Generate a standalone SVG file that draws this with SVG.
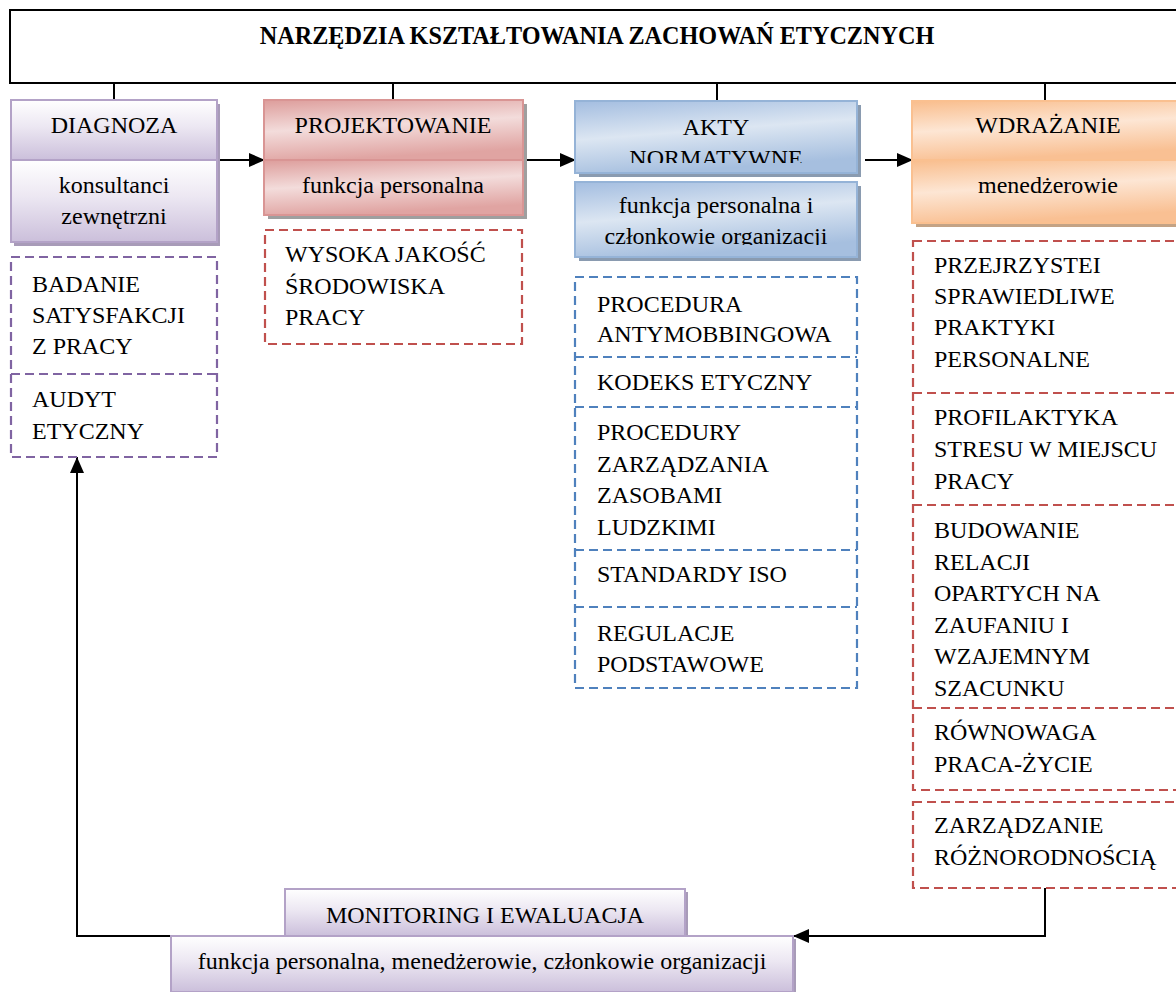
<svg xmlns="http://www.w3.org/2000/svg" width="1176" height="992" viewBox="0 0 1176 992">
<defs>
<linearGradient id="gPur" x1="0" y1="0" x2="0" y2="1">
<stop offset="0" stop-color="#ffffff"/><stop offset="0.45" stop-color="#ece7f2"/><stop offset="1" stop-color="#cbbfdb"/>
</linearGradient>
<linearGradient id="gRed" x1="0" y1="0" x2="0.25" y2="1">
<stop offset="0" stop-color="#dd9d9b"/><stop offset="0.5" stop-color="#f3dcdb"/><stop offset="1" stop-color="#e0a4a2"/>
</linearGradient>
<linearGradient id="gBlue" x1="0" y1="0" x2="0.3" y2="1">
<stop offset="0" stop-color="#a3bde0"/><stop offset="0.5" stop-color="#dce6f2"/><stop offset="1" stop-color="#a6bfdf"/>
</linearGradient>
<linearGradient id="gOra" x1="0" y1="0" x2="0.25" y2="1">
<stop offset="0" stop-color="#f9bd8c"/><stop offset="0.5" stop-color="#fde6d4"/><stop offset="1" stop-color="#f9c093"/>
</linearGradient>
<marker id="ah" markerUnits="userSpaceOnUse" markerWidth="16" markerHeight="14" refX="16" refY="7" orient="auto">
<path d="M0,0 L16,7 L0,14 z" fill="#000"/>
</marker>
<clipPath id="c1"><rect x="575" y="101" width="282" height="62"/></clipPath>
<clipPath id="c2"><rect x="575" y="182" width="282" height="63"/></clipPath>
<style>
text{font-family:"Liberation Serif","Times New Roman",serif;font-size:24px;fill:#000}
.t{font-weight:bold;font-size:24.2px}
.c{text-anchor:middle}
.pur{fill:url(#gPur);stroke:#b3a2c7;stroke-width:2}
.red{fill:url(#gRed);stroke:#d99594;stroke-width:2}
.blu{fill:url(#gBlue);stroke:#95b3d7;stroke-width:2}
.ora{fill:url(#gOra);stroke:#fac090;stroke-width:2}
.sh{fill:#9f9f9f}
.shp{fill:#a89bb8}
.shb{fill:#8a9bb0}
.sho{fill:#c4a385}
.dp{fill:none;stroke:#8064a2;stroke-width:2.2;stroke-dasharray:9 5}
.dr{fill:none;stroke:#c0504d;stroke-width:2.2;stroke-dasharray:9 5}
.db{fill:none;stroke:#4f81bd;stroke-width:2.2;stroke-dasharray:9 5}
.ln{fill:none;stroke:#000;stroke-width:2}
</style>
</defs>
<rect width="1176" height="992" fill="#fff"/>

<g id="header">
<rect x="10" y="10" width="1180" height="73" fill="#fff" stroke="#000" stroke-width="2"/>
<text class="t c" x="597" y="44">NARZĘDZIA KSZTAŁTOWANIA ZACHOWAŃ ETYCZNYCH</text>
</g>

<g id="connectors">
<line class="ln" x1="114" y1="83" x2="114" y2="100"/>
<line class="ln" x1="393" y1="83" x2="393" y2="100"/>
<line class="ln" x1="717" y1="83" x2="717" y2="101"/>
<line class="ln" x1="1045" y1="83" x2="1045" y2="101"/>
<line class="ln" x1="217" y1="160" x2="265" y2="160" marker-end="url(#ah)"/>
<line class="ln" x1="527" y1="160" x2="576" y2="160" marker-end="url(#ah)"/>
<line class="ln" x1="865" y1="160" x2="913" y2="160" marker-end="url(#ah)"/>
<polyline class="ln" points="1045,888 1045,936 793,936" marker-end="url(#ah)"/>
<polyline class="ln" points="171,936 77,936 77,457" marker-end="url(#ah)"/>
</g>

<g id="diagnoza">
<rect class="shp" x="14" y="104" width="206" height="142"/>
<rect class="pur" x="11" y="100" width="206" height="60"/>
<rect class="pur" x="11" y="160" width="206" height="82"/>
<text class="c" x="114" y="133">DIAGNOZA</text>
<text class="c" x="114" y="193">konsultanci</text>
<text class="c" x="114" y="224">zewnętrzni</text>
</g>

<g id="diagnoza-items">
<rect class="dp" x="11" y="257" width="206" height="200"/>
<line class="dp" x1="11" y1="374" x2="217" y2="374"/>
<text x="32" y="292">BADANIE</text>
<text x="32" y="323">SATYSFAKCJI</text>
<text x="32" y="354">Z PRACY</text>
<text x="32" y="407">AUDYT</text>
<text x="32" y="439">ETYCZNY</text>
</g>

<g id="projektowanie">
<rect class="sh" x="268" y="104" width="259" height="115"/>
<rect class="red" x="264" y="100" width="259" height="60"/>
<rect class="red" x="264" y="160" width="259" height="55"/>
<text class="c" x="393" y="133">PROJEKTOWANIE</text>
<text class="c" x="393" y="193">funkcja personalna</text>
</g>

<g id="projektowanie-items">
<rect class="dr" x="265" y="230" width="257" height="114"/>
<text x="285" y="262">WYSOKA JAKOŚĆ</text>
<text x="285" y="294">ŚRODOWISKA</text>
<text x="285" y="325">PRACY</text>
</g>

<g id="akty">
<rect class="shb" x="579" y="105" width="282" height="72"/>
<rect class="blu" x="575" y="101" width="282" height="72"/>
<text class="c" x="716" y="135">AKTY</text>
<text class="c" x="716" y="166" clip-path="url(#c1)">NORMATYWNE</text>
<rect class="shb" x="579" y="186" width="282" height="75"/>
<rect class="blu" x="575" y="182" width="282" height="75"/>
<text class="c" x="716" y="213">funkcja personalna i</text>
<text class="c" x="716" y="244" clip-path="url(#c2)">członkowie organizacji</text>
</g>

<g id="akty-items">
<rect class="db" x="575" y="277" width="282" height="411"/>
<line class="db" x1="575" y1="357" x2="857" y2="357"/>
<line class="db" x1="575" y1="407" x2="857" y2="407"/>
<line class="db" x1="575" y1="550" x2="857" y2="550"/>
<line class="db" x1="575" y1="607" x2="857" y2="607"/>
<text x="597" y="312">PROCEDURA</text>
<text x="597" y="342">ANTYMOBBINGOWA</text>
<text x="597" y="390">KODEKS ETYCZNY</text>
<text x="597" y="440">PROCEDURY</text>
<text x="597" y="472">ZARZĄDZANIA</text>
<text x="597" y="503">ZASOBAMI</text>
<text x="597" y="535">LUDZKIMI</text>
<text x="597" y="582">STANDARDY ISO</text>
<text x="597" y="641">REGULACJE</text>
<text x="597" y="672">PODSTAWOWE</text>
</g>

<g id="wdrazanie">
<rect class="sho" x="916" y="105" width="270" height="122"/>
<rect class="ora" x="912" y="101" width="270" height="59"/>
<rect class="ora" x="912" y="160" width="270" height="63"/>
<text class="c" x="1048" y="133">WDRAŻANIE</text>
<text class="c" x="1048" y="193">menedżerowie</text>
</g>

<g id="wdrazanie-items">
<rect class="dr" x="913" y="241" width="280" height="549"/>
<line class="dr" x1="913" y1="393" x2="1176" y2="393"/>
<line class="dr" x1="913" y1="505" x2="1176" y2="505"/>
<line class="dr" x1="913" y1="708" x2="1176" y2="708"/>
<rect class="dr" x="913" y="802" width="280" height="86"/>
<text x="934" y="273">PRZEJRZYSTEI</text>
<text x="934" y="304">SPRAWIEDLIWE</text>
<text x="934" y="335">PRAKTYKI</text>
<text x="934" y="367">PERSONALNE</text>
<text x="934" y="425">PROFILAKTYKA</text>
<text x="934" y="457">STRESU W MIEJSCU</text>
<text x="934" y="489">PRACY</text>
<text x="934" y="538">BUDOWANIE</text>
<text x="934" y="570">RELACJI</text>
<text x="934" y="601">OPARTYCH NA</text>
<text x="934" y="633">ZAUFANIU I</text>
<text x="934" y="664">WZAJEMNYM</text>
<text x="934" y="696">SZACUNKU</text>
<text x="934" y="740">RÓWNOWAGA</text>
<text x="934" y="772">PRACA-ŻYCIE</text>
<text x="934" y="833">ZARZĄDZANIE</text>
<text x="934" y="865">RÓŻNORODNOŚCIĄ</text>
</g>

<g id="monitoring">
<rect class="shp" x="288" y="892" width="400" height="47"/>
<rect class="pur" x="285" y="889" width="400" height="47"/>
<text class="c" x="485" y="923">MONITORING I EWALUACJA</text>
<rect class="shp" x="174" y="939" width="622" height="56"/>
<rect class="pur" x="171" y="936" width="622" height="56"/>
<text class="c" x="482" y="969">funkcja personalna, menedżerowie, członkowie organizacji</text>
</g>
</svg>
